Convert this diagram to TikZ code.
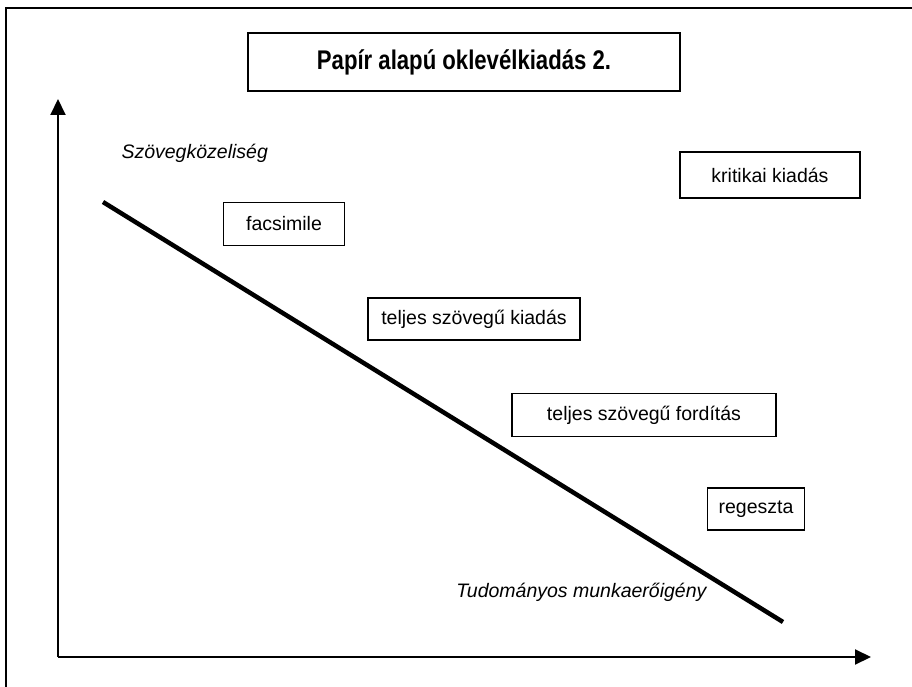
\documentclass[tikz,border=0pt]{standalone}
\usepackage{fontspec}
\setmainfont{Liberation Sans}
\newfontfamily\titlefont[FakeStretch=0.82]{Liberation Sans}
\usetikzlibrary{arrows.meta}

\tikzset{
  box/.style={draw, line width=1.5pt, inner sep=0pt, align=center,
    font=\fontsize{19.5}{23}\selectfont},
  axis/.style={line width=2pt, -{Triangle[length=16pt,width=15pt]}},
  axislabel/.style={font=\fontsize{19.5}{23}\selectfont\itshape}
}

\begin{document}
\begin{tikzpicture}[x=1pt,y=-1pt]
\useasboundingbox (0,0) rectangle (912,687);

% frame
\begin{scope}
\clip (0,0) rectangle (912,687);
\draw[line width=2.2pt] (6,8) rectangle (930,700);
\end{scope}

% title
\node[box, minimum width=432pt, minimum height=58pt] (title) at (464,62) {\titlefont\fontsize{27}{30}\selectfont\bfseries Papír alapú oklevélkiadás 2.};

% axes
\coordinate (O) at (58,657);
\coordinate (ytip) at (58,99);
\coordinate (xtip) at (871,657);
\draw[axis] (O) -- (ytip);
\draw[axis] (O) -- (xtip);
\node[axislabel, anchor=west] (yl) at (118,153) {Szövegközeliség};
\node[axislabel, anchor=east] (xl) at (710,592) {Tudományos munkaerőigény};

% trend line
\coordinate (l1) at (103,202);
\coordinate (l2) at (783,622);
\draw[line width=4.5pt] (l1) -- (l2);

% editions
\node[box, minimum width=180pt, minimum height=46pt] (krit) at (770,175) {kritikai kiadás};
\node[box, minimum width=121pt, minimum height=43pt] (facs) at (284,224) {facsimile};
\node[box, minimum width=212pt, minimum height=42pt] (tkiad) at (474,319) {teljes szövegű kiadás};
\node[box, minimum width=264pt, minimum height=43pt] (tford) at (644,415) {teljes szövegű fordítás};
\node[box, minimum width=97pt, minimum height=42pt] (reg) at (756,509) {regeszta};

\end{tikzpicture}
\end{document}
